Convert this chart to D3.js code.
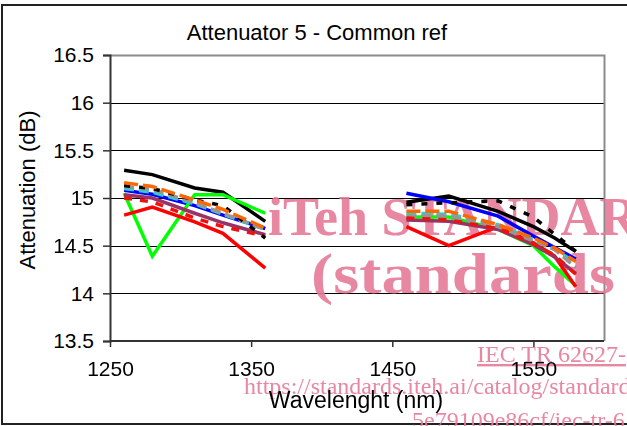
<!DOCTYPE html>
<html>
<head>
<meta charset="utf-8">
<script src="https://cdn.jsdelivr.net/npm/d3@7"></script>
<style>
  html, body { margin: 0; padding: 0; background: #fff; overflow: hidden; }
  svg { display: block; }
</style>
</head>
<body>
<svg id="chart" width="627" height="426"></svg>
<script>
// Wavelengths measured in the two bands (nm)
const bandLow  = [1260, 1280, 1310, 1330, 1360];
const bandHigh = [1460, 1490, 1525, 1550, 1565, 1580];

// Attenuation readings (dB) per instrument, low band then high band
const blackLow     = [15.29, 15.245, 15.105, 15.06, 14.755];
const blackHigh    = [14.955, 15.02, 14.86, 14.70, 14.58, 14.44];
const blueLow      = [15.08, 15.04, 14.92, 14.82, 14.68];
const blueHigh     = [15.05, 14.96, 14.81, 14.60, 14.48, 14.36];
const greenLow     = [15.05, 14.39, 15.035, 15.035, 14.84];
const greenHigh    = [14.80, 14.80, 14.67, 14.50, 14.28, 14.08];
const redLow       = [14.82, 14.905, 14.75, 14.63, 14.265];
const redHigh      = [14.70, 14.50, 14.70, 14.53, 14.39, 14.07];
const cyanLow      = [15.10, 15.06, 14.94, 14.83, 14.67];
const cyanHigh     = [14.84, 14.83, 14.72, 14.56, 14.46, 14.32];
const plumLow      = [15.035, 15.0, 14.84, 14.74, 14.615];
const plumHigh     = [14.77, 14.755, 14.67, 14.51, 14.38, 14.21];
const greyLow      = [15.12, 15.09, 14.95, 14.84, 14.67];
const greyHigh     = [14.81, 14.81, 14.70, 14.55, 14.46, 14.27];
const redDashLow   = [15.0, 14.96, 14.79, 14.70, 14.60];
const redDashHigh  = [14.79, 14.77, 14.68, 14.52, 14.40, 14.20];
const blackDashLow = [15.13, 15.10, 14.98, 14.92, 14.58];
const blackDashHigh= [14.93, 14.95, 14.97, 14.80, 14.62, 14.44];
const orangeLow    = [15.16, 15.12, 14.98, 14.88, 14.685];
const orangeHigh   = [14.86, 14.86, 14.72, 14.58, 14.475, 14.335];

// Axis ticks
const xTicks = [1250, 1350, 1450, 1550];
const yTicks = [13.5, 14, 14.5, 15, 15.5, 16, 16.5];

// Series table with drawing styles (drawn in this order)
const series = [
  { low: blackLow,     high: blackHigh,     color: "#000000", dash: null },
  { low: blueLow,      high: blueHigh,      color: "#0000ff", dash: null },
  { low: greenLow,     high: greenHigh,     color: "#00ff00", dash: null },
  { low: redLow,       high: redHigh,       color: "#ff0000", dash: null },
  { low: cyanLow,      high: cyanHigh,      color: "#33cccc", dash: "10,5" },
  { low: plumLow,      high: plumHigh,      color: "#993366", dash: null },
  { low: greyLow,      high: greyHigh,      color: "#969696", dash: "10,5" },
  { low: redDashLow,   high: redDashHigh,   color: "#ee1111", dash: "8,8" },
  { low: blackDashLow, high: blackDashHigh, color: "#000000", dash: "6,9" },
  { low: orangeLow,    high: orangeHigh,    color: "#ff6600", dash: "14,5" }
];

const svg = d3.select("#chart");
const plot = { left: 110, right: 604, top: 55, bottom: 341 };

const x = d3.scaleLinear().domain([1250, 1600]).range([plot.left, plot.right]);
const y = d3.scaleLinear().domain([13.5, 16.5]).range([plot.bottom, plot.top]);

const font = "'Liberation Sans', Arial, sans-serif";
const serif = "'Liberation Serif', 'Times New Roman', serif";
const pink = "#e67a98";

// Outer chart frame
svg.append("rect")
  .attr("x", 2).attr("y", 5).attr("width", 700).attr("height", 419)
  .attr("fill", "#fff").attr("stroke", "#222").attr("stroke-width", 2);

// Horizontal gridlines
svg.append("g").selectAll("line")
  .data(yTicks.filter(v => v > 13.5 && v < 16.5))
  .join("line")
  .attr("x1", plot.left).attr("x2", plot.right)
  .attr("y1", d => Math.round(y(d)) + 0.5).attr("y2", d => Math.round(y(d)) + 0.5)
  .attr("stroke", "#000").attr("stroke-width", 1);

// Plot border (top and right)
svg.append("path")
  .attr("d", `M${plot.left},${plot.top + 0.5}H${plot.right + 0.5}V${plot.bottom}`)
  .attr("fill", "none").attr("stroke", "#8c8c8c").attr("stroke-width", 2);

// Publisher overlay text
const overlay = svg.append("g").attr("fill", pink).attr("font-family", serif).attr("opacity", 0.9);
overlay.append("text").attr("x", 268).attr("y", 235)
  .attr("font-size", 54).attr("font-weight", "bold").text("iTeh STANDAR");
overlay.append("text").attr("transform", "translate(311,293) scale(1.15,1)")
  .attr("font-size", 58).attr("font-weight", "bold").text("(standards");
overlay.append("text").attr("x", 477).attr("y", 362)
  .attr("font-size", 24).attr("text-decoration", "underline").text("IEC TR 62627-");
overlay.append("text").attr("x", 244).attr("y", 394)
  .attr("font-size", 24).text("https://standards.iteh.ai/catalog/standard");
overlay.append("text").attr("x", 412).attr("y", 428)
  .attr("font-size", 24).text("5e79109e86cf/iec-tr-6");

// Measurement lines, one path per band
const line = d3.line().x(d => x(d[0])).y(d => y(d[1]));
const lines = svg.append("g").attr("fill", "none").attr("stroke-linejoin", "miter");
series.forEach(s => {
  [[bandLow, s.low], [bandHigh, s.high]].forEach(([wl, vals]) => {
    lines.append("path")
      .attr("d", line(wl.map((w, i) => [w, vals[i]])))
      .attr("stroke", s.color)
      .attr("stroke-width", 3.5)
      .attr("stroke-dasharray", s.dash);
  });
});

// Y axis
const yAxis = svg.append("g")
  .attr("transform", `translate(${plot.left},0)`)
  .call(d3.axisLeft(y).tickValues(yTicks).tickSize(7).tickPadding(9)
        .tickFormat(d3.format("")));
yAxis.select(".domain").attr("stroke", "#333").attr("stroke-width", 2);
yAxis.selectAll(".tick line").attr("stroke", "#333").attr("stroke-width", 1.5);
yAxis.selectAll("text").attr("font-family", font).attr("font-size", 21).attr("fill", "#000");

// X axis
const xAxis = svg.append("g")
  .attr("transform", `translate(0,${plot.bottom})`)
  .call(d3.axisBottom(x).tickValues(xTicks).tickSize(6).tickPadding(14)
        .tickFormat(d3.format("")));
xAxis.select(".domain").attr("d", `M${plot.left},0H${plot.right}`)
  .attr("stroke", "#333").attr("stroke-width", 2);
xAxis.selectAll(".tick line").attr("stroke", "#333").attr("stroke-width", 1.5);
xAxis.selectAll("text").attr("font-family", font).attr("font-size", 21).attr("fill", "#000");

// Titles
svg.append("text").attr("x", 317).attr("y", 40).attr("text-anchor", "middle")
  .attr("font-family", font).attr("font-size", 22).text("Attenuator 5 - Common ref");
svg.append("text").attr("transform", "translate(35,190) rotate(-90)")
  .attr("text-anchor", "middle").attr("font-family", font).attr("font-size", 22)
  .text("Attenuation (dB)");
svg.append("text").attr("x", 356).attr("y", 408).attr("text-anchor", "middle")
  .attr("font-family", font).attr("font-size", 23).text("Wavelenght (nm)");
</script>
</body>
</html>
